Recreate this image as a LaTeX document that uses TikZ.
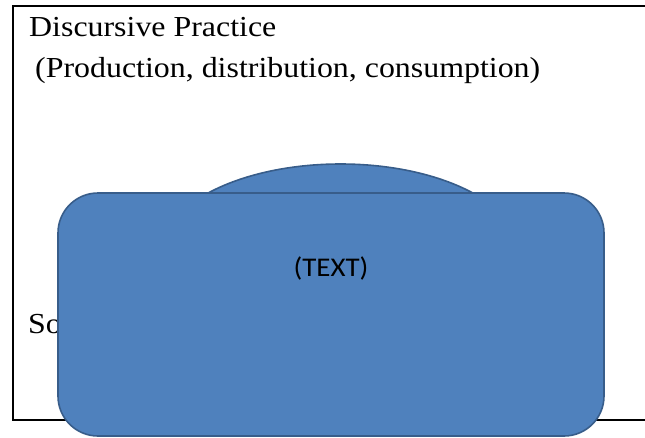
\documentclass[tikz,border=0pt]{standalone}
\usepackage{fontspec}
\usepackage{graphicx}
\setmainfont{Liberation Serif}
\newfontfamily\calib{Carlito}
\definecolor{boxfill}{HTML}{4F81BD}
\definecolor{boxline}{HTML}{385D8A}
\newcommand{\widetext}[1]{\scalebox{1.1}[1]{#1}}
\tikzset{
  frame/.style={draw=black, line width=1.6pt},
  serif/.style={inner sep=0pt, anchor=base west, font=\fontsize{29}{35}\selectfont},
  blueshape/.style={fill=boxfill, draw=boxline, line width=1.6pt},
}
\begin{document}
\begin{tikzpicture}[x=1pt, y=-1pt]
\useasboundingbox (0,0) rectangle (645,437);
\clip (0,0) rectangle (645,437);
\draw[frame] (13,6) rectangle (700,420);
\node[serif] (dp) at (29,36) {\widetext{Discursive Practice}};
\node[serif] (pdc) at (35,77) {\widetext{(Production, distribution, consumption)}};
\node[serif] (sp) at (28,333) {\widetext{Social Practice}};
\draw[blueshape] (340.5,254) ellipse [x radius=180, y radius=90];
\draw[blueshape, rounded corners=40pt] (58,193) rectangle (604,436);
\node[inner sep=0pt, anchor=base, font=\calib\fontsize{27}{32}\selectfont] (txt) at (331,276) {\scalebox{1.07}[1]{(TEXT)}};
\end{tikzpicture}
\end{document}
